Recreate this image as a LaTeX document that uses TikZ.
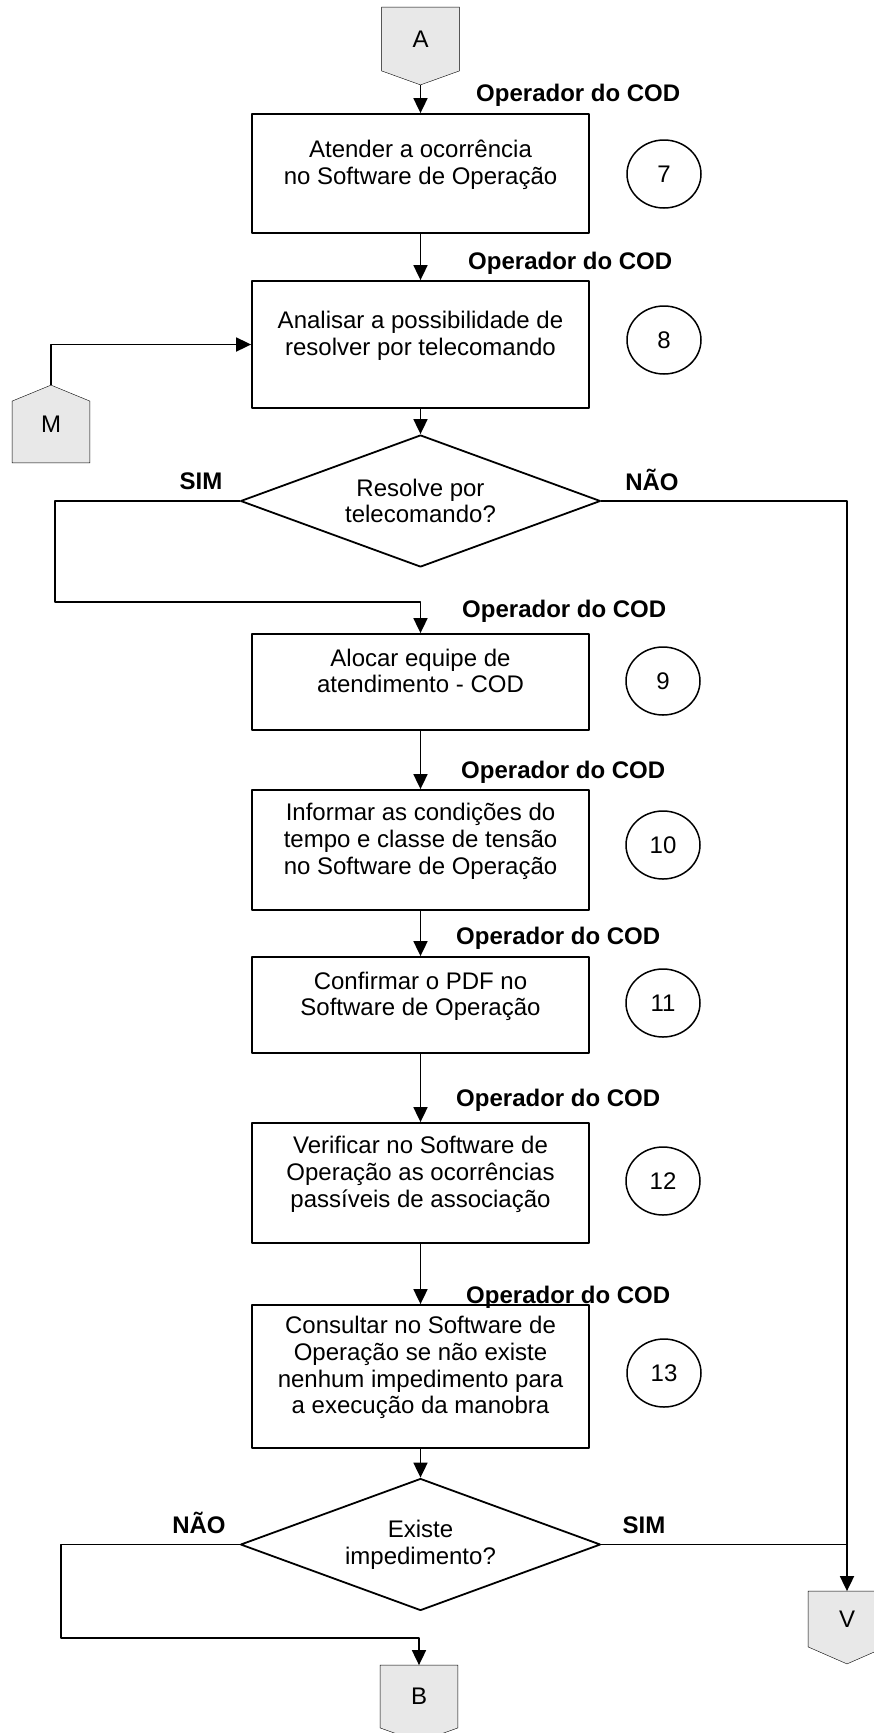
\documentclass[tikz,border=0pt]{standalone}
\usepackage{fontspec}
\setmainfont{Liberation Sans}
\usetikzlibrary{arrows.meta,shapes.geometric,backgrounds}
\newcommand\subir[1]{\raisebox{8pt}[\height][\depth]{\begin{tabular}{@{}c@{}}#1\end{tabular}}}
\tikzset{
  caixa/.style={draw,minimum width=337pt,inner sep=0pt},
  num/.style={draw,ellipse,line width=1.5pt,minimum width=74pt,minimum height=68pt,inner sep=0pt},
  decisao/.style={draw,diamond,aspect=2.727,minimum width=360pt,minimum height=132pt,inner sep=0pt,align=center},
  conector/.style={minimum width=76pt,inner sep=0pt},
  forma/.style={draw,fill=gray!18},
  resp/.style={anchor=west,font=\fontsize{24}{26.7}\selectfont\bfseries},
  rotulo/.style={font=\fontsize{24}{26.7}\selectfont\bfseries}
}
\begin{document}
\begin{tikzpicture}[x=1pt,y=-1pt,line join=round,line width=1.8pt,font=\fontsize{24}{26.7}\selectfont,>={Triangle[length=15pt,width=14pt]}]
  \useasboundingbox (0,0) rectangle (874,1733);
  %% conectores de pagina
  \node[conector,minimum height=62pt] (A) at (420.5,39) {A};
  \node[conector,minimum height=76pt] (M) at (51,424) {M};
  \node[conector,minimum height=54pt] (V) at (847,1619) {V};
  \node[conector,minimum height=61pt] (B) at (419,1696.5) {B};
  \begin{scope}[on background layer]
    \draw[forma] (A.north west)--(A.north east)--(A.south east)--([yshift=-14pt]A.south)--(A.south west)--cycle;
    \draw[forma] ([yshift=-16pt]M.north west)--(M.north)--([yshift=-16pt]M.north east)--(M.south east)--(M.south west)--cycle;
    \draw[forma] (V.north west)--(V.north east)--(V.south east)--([yshift=-17pt]V.south)--(V.south west)--cycle;
    \draw[forma] (B.north west)--(B.north east)--(B.south east)--([yshift=-14pt]B.south)--(B.south west)--cycle;
  \end{scope}
  %% atividades
  \node[caixa,minimum height=119pt] (b7) at (420.5,173.5) {\subir{Atender a ocorrência\\no Software de Operação}};
  \node[caixa,minimum height=127pt] (b8) at (420.5,344.5) {\subir{Analisar a possibilidade de\\resolver por telecomando}};
  \node[decisao] (d1) at (420.5,501) {Resolve por\\telecomando?};
  \node[caixa,minimum height=96pt] (b9) at (420.5,682) {\subir{Alocar equipe de\\atendimento - COD}};
  \node[caixa,minimum height=120pt] (b10) at (420.5,850) {\subir{Informar as condições do\\tempo e classe de tensão\\no Software de Operação}};
  \node[caixa,minimum height=96pt] (b11) at (420.5,1005) {\subir{Confirmar o PDF no\\Software de Operação}};
  \node[caixa,minimum height=120pt] (b12) at (420.5,1183) {\subir{Verificar no Software de\\Operação as ocorrências\\passíveis de associação}};
  \node[caixa,minimum height=143pt] (b13) at (420.5,1376.5) {\subir{Consultar no Software de\\Operação se não existe\\nenhum impedimento para\\a execução da manobra}};
  \node[decisao] (d2) at (420.5,1544.5) {Existe\\impedimento?};
  %% numeros
  \node[num] (n7) at (664,174) {7};
  \node[num] (n8) at (664,340) {8};
  \node[num] (n9) at (663,681) {9};
  \node[num] (n10) at (663,845) {10};
  \node[num] (n11) at (663,1003) {11};
  \node[num] (n12) at (663,1181) {12};
  \node[num] (n13) at (664,1373) {13};
  %% responsaveis
  \node[resp] (r7) at (472,95) {Operador do COD};
  \node[resp] (r8) at (464,263) {Operador do COD};
  \node[resp] (r9) at (458,611) {Operador do COD};
  \node[resp] (r10) at (457,772) {Operador do COD};
  \node[resp] (r11) at (452,938) {Operador do COD};
  \node[resp] (r12) at (452,1100) {Operador do COD};
  \node[resp] (r13) at (462,1297) {Operador do COD};
  %% rotulos das decisoes
  \node[rotulo] (s1) at (201,481) {SIM};
  \node[rotulo] (n1) at (652,480) {NÃO};
  \node[rotulo] (n2) at (199,1523) {NÃO};
  \node[rotulo] (s2) at (644,1525) {SIM};
  %% ligacoes
  \coordinate (sim) at (55,602);
  \coordinate (nao) at (61,1638);
  \draw[->] ([yshift=-14pt]A.south)--(b7.north);
  \draw[->] (b7)--(b8);
  \draw[->] (M.north) |- (b8.west);
  \draw[->] (b8)--(d1);
  \draw[->] (d1.west) -| (sim) -| (b9.north);
  \draw[->] (d1.east) -| (V.north);
  \draw[->] (b9)--(b10);
  \draw[->] (b10)--(b11);
  \draw[->] (b11)--(b12);
  \draw[->] (b12)--(b13);
  \draw[->] (b13)--(d2);
  \draw (d2.east)--(d2.east -| V.north);
  \draw[->] (d2.west) -| (nao) -| (B.north);
\end{tikzpicture}
\end{document}
